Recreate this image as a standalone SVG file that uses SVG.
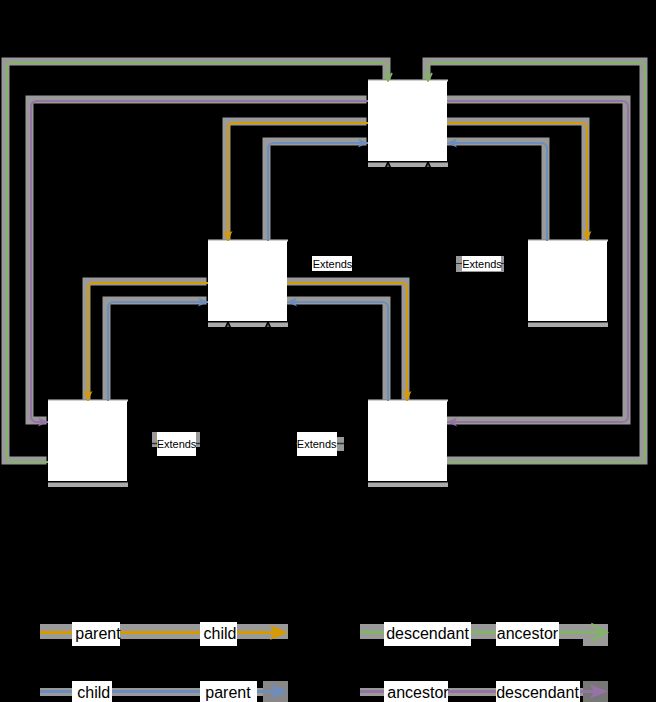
<svg xmlns="http://www.w3.org/2000/svg" width="656" height="702" viewBox="0 0 656 702">
<defs>
<style>
.halo{fill:none;stroke:#9a9a9a;stroke-width:8;stroke-linejoin:miter}
.ln{fill:none;stroke-width:2}
.or{stroke:#d79b00}.bl{stroke:#6c8ebf}.gr{stroke:#82b366}.pu{stroke:#9673a6}
.ext{fill:none;stroke:#000;stroke-width:1}
.lbl{font-family:"Liberation Sans",Arial,sans-serif;font-size:11px;fill:#000;text-anchor:middle}
.leg{font-family:"Liberation Sans",Arial,sans-serif;font-size:16px;fill:#000;text-anchor:middle}
.nbody{fill:#fff}
.ntop{fill:#cfcfcf}
.nbot{fill:#000}
.nbar{fill:#aaa}
</style>
<marker id="mo" markerUnits="userSpaceOnUse" markerWidth="10" markerHeight="10" viewBox="0 0 10 10" refX="10" refY="5" orient="auto"><path d="M0,0.5 L10,5 L0,9.5 L2.5,5 z" fill="#d79b00"/></marker>
<marker id="mb" markerUnits="userSpaceOnUse" markerWidth="10" markerHeight="10" viewBox="0 0 10 10" refX="10" refY="5" orient="auto"><path d="M0,0.5 L10,5 L0,9.5 L2.5,5 z" fill="#6c8ebf"/></marker>
<marker id="mp" markerUnits="userSpaceOnUse" markerWidth="10" markerHeight="10" viewBox="0 0 10 10" refX="10" refY="5" orient="auto"><path d="M0,0.5 L10,5 L0,9.5 L2.5,5 z" fill="#9673a6"/></marker>
<marker id="mg" markerUnits="userSpaceOnUse" markerWidth="10" markerHeight="10" viewBox="0 0 10 10" refX="9.5" refY="5" orient="auto"><path d="M1.5,1 L9.5,5 L1.5,9" fill="none" stroke="#82b366" stroke-width="1.8"/></marker>
<marker id="me" markerUnits="userSpaceOnUse" markerWidth="12" markerHeight="12" viewBox="0 0 12 12" refX="11" refY="6" orient="auto"><path d="M1,1.5 L11,6 L1,10.5 z" fill="none" stroke="#000" stroke-width="1.5"/></marker>
</defs>
<rect x="0" y="0" width="656" height="702" fill="#000"/>

<g id="halos" transform="translate(-1.5,-1.5)">
<path class="halo" d="M48,462 H7 V63 H388 V81"/>
<path class="halo" d="M447,462 H645 V63 H428 V81"/>
<path class="halo" d="M368,101 H31 V422 H48"/>
<path class="halo" d="M447,101 H628 V422 H447"/>
<path class="halo" d="M368,123 H228 V241"/>
<path class="halo" d="M447,123 H587 V241"/>
<path class="halo" d="M268,241 V143 H368"/>
<path class="halo" d="M547,241 V143 H447"/>
<path class="halo" d="M208,283 H88 V401"/>
<path class="halo" d="M287,283 H407 V401"/>
<path class="halo" d="M108,401 V302 H208"/>
<path class="halo" d="M388,401 V302 H287"/>
</g>

<g id="node-top">
<rect class="nbar" x="368" y="162" width="80" height="5"/>
<rect class="ntop" x="368" y="79.5" width="80" height="2"/>
<rect class="nbody" x="368" y="81" width="79" height="80"/>
<rect class="nbot" x="368" y="161" width="80" height="1.5"/>
</g>
<g id="node-middle">
<rect class="nbar" x="208" y="322" width="80" height="5"/>
<rect class="ntop" x="208" y="239.5" width="80" height="2"/>
<rect class="nbody" x="208" y="241" width="79" height="80"/>
<rect class="nbot" x="208" y="321" width="80" height="1.5"/>
</g>
<g id="node-right">
<rect class="nbar" x="528" y="322" width="80" height="5"/>
<rect class="ntop" x="528" y="239.5" width="80" height="2"/>
<rect class="nbody" x="528" y="241" width="79" height="80"/>
<rect class="nbot" x="528" y="321" width="80" height="1.5"/>
</g>
<g id="node-bottom-left">
<rect class="nbar" x="48" y="482" width="80" height="5"/>
<rect class="ntop" x="48" y="399.5" width="80" height="2"/>
<rect class="nbody" x="48" y="401" width="79" height="80"/>
<rect class="nbot" x="48" y="481" width="80" height="1.5"/>
</g>
<g id="node-bottom-right">
<rect class="nbar" x="368" y="482" width="80" height="5"/>
<rect class="ntop" x="368" y="399.5" width="80" height="2"/>
<rect class="nbody" x="368" y="401" width="79" height="80"/>
<rect class="nbot" x="368" y="481" width="80" height="1.5"/>
</g>

<g id="connectors">
<path class="ln gr" d="M48,462 H13 Q7,462 7,456 V69 Q7,63 13,63 H382 Q388,63 388,69 V81" marker-end="url(#mg)"/>
<path class="ln gr" d="M447,462 H639 Q645,462 645,456 V69 Q645,63 639,63 H434 Q428,63 428,69 V81" marker-end="url(#mg)"/>
<path class="ln pu" d="M368,101 H37 Q31,101 31,107 V416 Q31,422 37,422 H48" marker-end="url(#mp)"/>
<path class="ln pu" d="M447,101 H622 Q628,101 628,107 V416 Q628,422 622,422 H447" marker-end="url(#mp)"/>
<path class="ln or" d="M368,123 H234 Q228,123 228,129 V241" marker-end="url(#mo)"/>
<path class="ln or" d="M447,123 H581 Q587,123 587,129 V241" marker-end="url(#mo)"/>
<path class="ln bl" d="M268,241 V149 Q268,143 274,143 H368" marker-end="url(#mb)"/>
<path class="ln bl" d="M547,241 V149 Q547,143 541,143 H447" marker-end="url(#mb)"/>
<path class="ln or" d="M208,283 H94 Q88,283 88,289 V401" marker-end="url(#mo)"/>
<path class="ln or" d="M287,283 H401 Q407,283 407,289 V401" marker-end="url(#mo)"/>
<path class="ln bl" d="M108,401 V308 Q108,302 114,302 H208" marker-end="url(#mb)"/>
<path class="ln bl" d="M388,401 V308 Q388,302 382,302 H287" marker-end="url(#mb)"/>
<path class="ext" d="M287,263 H388 V162" marker-end="url(#me)"/>
<path class="ext" d="M528,263 H428 V162" marker-end="url(#me)"/>
<path class="ext" d="M127,444 H228 V322" marker-end="url(#me)"/>
<path class="ext" d="M368,444 H268 V322" marker-end="url(#me)"/>
</g>

<g id="edge-labels">
<rect x="312" y="256" width="40" height="15" fill="#fff"/>
<text class="lbl" x="332.5" y="267.5">Extends</text>
<rect x="456" y="256" width="48" height="16" fill="#999"/>
<line x1="456" y1="263.5" x2="504" y2="263.5" stroke="#333" stroke-width="1"/>
<rect x="462" y="256" width="39" height="15" fill="#fff"/>
<text class="lbl" x="482" y="267.5">Extends</text>
<rect x="152" y="432" width="48" height="15" fill="#999"/>
<line x1="152" y1="443.5" x2="200" y2="443.5" stroke="#333" stroke-width="1.5"/>
<rect x="157" y="432" width="39" height="24" fill="#fff"/>
<text class="lbl" x="176.5" y="447.5">Extends</text>
<rect x="336" y="437" width="8" height="14" fill="#999"/>
<line x1="296" y1="443.5" x2="344" y2="443.5" stroke="#333" stroke-width="1.5"/>
<rect x="297" y="432" width="40" height="24" fill="#fff"/>
<text class="lbl" x="316.7" y="447.5">Extends</text>
</g>

<g id="legend">
<rect x="40" y="624" width="248" height="15" fill="#9a9a9a"/>
<line x1="40" y1="632.5" x2="276" y2="632.5" stroke="#d79b00" stroke-width="3"/>
<path d="M270,625 L288,632.5 L270,640 L274,632.5 z" fill="#d79b00"/>
<rect x="72" y="622" width="48" height="24" fill="#fff"/>
<text class="leg" x="98" y="638.5">parent</text>
<rect x="200" y="622" width="37" height="24" fill="#fff"/>
<text class="leg" x="220" y="638.5">child</text>

<rect x="40" y="688" width="248" height="8" fill="#9a9a9a"/>
<rect x="263" y="681" width="25" height="21" fill="#888"/>
<line x1="40" y1="691.5" x2="278" y2="691.5" stroke="#6c8ebf" stroke-width="3"/>
<path d="M271,684.5 L288,691.5 L271,698.5 L275,691.5 z" fill="#6c8ebf"/>
<rect x="72" y="681" width="40" height="21" fill="#fff"/>
<text class="leg" x="93.7" y="698">child</text>
<rect x="200" y="681" width="57" height="21" fill="#fff"/>
<text class="leg" x="228" y="698">parent</text>

<rect x="360" y="624" width="248" height="15" fill="#9a9a9a"/>
<rect x="583" y="624" width="25" height="22" fill="#9a9a9a"/>
<line x1="360" y1="632.5" x2="606" y2="632.5" stroke="#82b366" stroke-width="3"/>
<path d="M591,624 L606,632.5 L591,641" fill="none" stroke="#82b366" stroke-width="3"/>
<rect x="384" y="622" width="87" height="24" fill="#fff"/>
<text class="leg" x="427.5" y="638.5">descendant</text>
<rect x="496" y="622" width="63" height="24" fill="#fff"/>
<text class="leg" x="527.5" y="638.5">ancestor</text>

<rect x="360" y="688" width="248" height="8" fill="#9a9a9a"/>
<rect x="583" y="681" width="25" height="21" fill="#777"/>
<line x1="360" y1="691.5" x2="598" y2="691.5" stroke="#9673a6" stroke-width="3"/>
<path d="M590,684.5 L608,691.5 L590,698.5 L594,691.5 z" fill="#9673a6"/>
<rect x="384" y="681" width="64" height="21" fill="#fff"/>
<text class="leg" x="418" y="698">ancestor</text>
<rect x="496" y="681" width="84" height="21" fill="#fff"/>
<text class="leg" x="537.5" y="698">descendant</text>
</g>
</svg>
